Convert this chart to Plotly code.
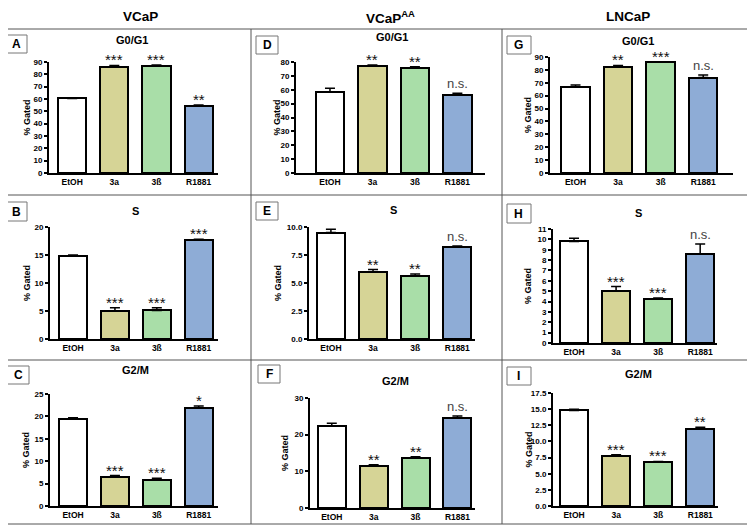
import plotly.graph_objects as go

W, H = 755, 526
OFF = 8  # the page body adds an 8px margin, so shift everything up/left

categories = ["EtOH", "3a", "3ß", "R1881"]
bar_colors = ["#ffffff", "#d6d496", "#a9dea8", "#8eacd6"]

cell_lines = ["VCaP", "VCaP<sup>AA</sup>", "LNCaP"]
phases = ["G0/G1", "S", "G2/M"]

# VCaP
a_mean = [60.5, 86.0, 86.5, 54.5]
a_err = [0.5, 1.2, 1.0, 0.7]
a_sig = ["", "***", "***", "**"]
b_mean = [14.8, 5.0, 5.1, 17.7]
b_err = [0.2, 0.6, 0.5, 0.1]
b_sig = ["", "***", "***", "***"]
c_mean = [19.4, 6.4, 5.9, 21.8]
c_err = [0.3, 0.4, 0.3, 0.5]
c_sig = ["", "***", "***", "*"]
# VCaP AA
d_mean = [58.5, 77.0, 75.6, 56.0]
d_err = [2.5, 0.8, 1.0, 1.5]
d_sig = ["", "**", "**", "n.s."]
e_mean = [9.5, 6.0, 5.6, 8.25]
e_err = [0.3, 0.2, 0.2, 0.05]
e_sig = ["", "**", "**", "n.s."]
f_mean = [22.4, 11.5, 13.6, 24.6]
f_err = [0.7, 0.3, 0.4, 0.5]
f_sig = ["", "**", "**", "n.s."]
# LNCaP
g_mean = [67.0, 82.5, 86.0, 74.0]
g_err = [1.2, 1.0, 0.3, 2.0]
g_sig = ["", "**", "***", "n.s."]
h_mean = [9.8, 5.0, 4.25, 8.6]
h_err = [0.3, 0.45, 0.1, 0.95]
h_sig = ["", "***", "***", "n.s."]
i_mean = [14.8, 7.8, 6.8, 11.9]
i_err = [0.2, 0.15, 0.1, 0.3]
i_sig = ["", "***", "***", "**"]

y_max = {"A": 90, "B": 20, "C": 25, "D": 80, "E": 10, "F": 30, "G": 90, "H": 11, "I": 17.5}
y_step = {"A": 10, "B": 5, "C": 5, "D": 10, "E": 2.5, "F": 10, "G": 10, "H": 1, "I": 2.5}

data = {
    "A": (a_mean, a_err, a_sig), "B": (b_mean, b_err, b_sig), "C": (c_mean, c_err, c_sig),
    "D": (d_mean, d_err, d_sig), "E": (e_mean, e_err, e_sig), "F": (f_mean, f_err, f_sig),
    "G": (g_mean, g_err, g_sig), "H": (h_mean, h_err, h_sig), "I": (i_mean, i_err, i_sig),
}

# geometry in page pixels: x domain, y domain (top, bottom), x range,
# title pos, letter box, y-title x
panels = {
    "A": dict(xd=(49, 218), yd=(62, 173), xr=(-0.55, 3.46), t=(132, 40), box=(6, 35, 27, 53), yt=27),
    "B": dict(xd=(50, 218), yd=(227, 339), xr=(-0.55, 3.46), t=(135, 211), box=(6, 202, 27, 221), yt=27),
    "C": dict(xd=(50, 218), yd=(394, 506), xr=(-0.55, 3.46), t=(135, 370), box=(7, 366, 29, 384), yt=26),
    "D": dict(xd=(296, 485), yd=(62, 173), xr=(-0.8, 3.65), t=(392, 37), box=(256, 36, 278, 54), yt=277),
    "E": dict(xd=(309, 475), yd=(227, 339), xr=(-0.52, 3.42), t=(393, 210), box=(256, 202, 278, 220), yt=278),
    "F": dict(xd=(310, 475), yd=(398, 508), xr=(-0.52, 3.42), t=(395, 381), box=(258, 365, 280, 383), yt=285),
    "G": dict(xd=(550, 733), yd=(57, 173), xr=(-0.6, 3.7), t=(638, 41), box=(507, 36, 531, 54), yt=528),
    "H": dict(xd=(553, 717), yd=(229, 343), xr=(-0.5, 3.4), t=(638, 213), box=(507, 204, 531, 223), yt=528),
    "I": dict(xd=(553, 718), yd=(393, 506), xr=(-0.5, 3.42), t=(638, 374), box=(507, 367, 531, 385), yt=528),
}
panel_phase = {"A": 0, "B": 1, "C": 2, "D": 0, "E": 1, "F": 2, "G": 0, "H": 1, "I": 2}


def px(x):
    return (x - OFF) / W


def py(y):
    return 1 - (y - OFF) / H


FONT = "Liberation Sans, Arial, sans-serif"
fig = go.Figure()
annotations = []
shapes = []


def paper_text(x, y, text, size, weight="bold", angle=0):
    return dict(x=px(x), y=py(y), xref="paper", yref="paper", text=text, showarrow=False,
                xanchor="center", yanchor="middle", textangle=angle,
                font=dict(family=FONT, size=size, color="black", weight=weight))


for n, letter in enumerate("ABCDEFGHI", start=1):
    mean, err, sig = data[letter]
    p = panels[letter]
    xa = "x" if n == 1 else f"x{n}"
    ya = "y" if n == 1 else f"y{n}"
    fig.add_trace(go.Bar(
        x=list(range(4)), y=mean, width=0.67, xaxis=xa, yaxis=ya,
        marker=dict(color=bar_colors, line=dict(color="black", width=2)),
        error_y=dict(type="data", array=err, arrayminus=[0] * 4, symmetric=False,
                     color="black", thickness=1.5, width=5),
        showlegend=False, hoverinfo="y"))

    step = y_step[letter]
    top = y_max[letter]
    fmt = ".1f" if step == 2.5 else "d"
    ax_x = dict(domain=[px(p["xd"][0]), px(p["xd"][1])], range=list(p["xr"]),
                anchor=ya, showline=True, linecolor="black", linewidth=2,
                tickvals=list(range(4)), ticktext=categories, ticks="",
                showgrid=False, zeroline=False, automargin=False,
                tickfont=dict(family=FONT, size=8.5, color="black", weight="bold"))
    ax_y = dict(domain=[py(p["yd"][1]), py(p["yd"][0])], range=[0, top],
                anchor=xa, showline=True, linecolor="black", linewidth=2,
                tick0=0, dtick=step, tickformat=fmt, ticks="outside", ticklen=3,
                tickwidth=1.5, tickcolor="black", showgrid=False, zeroline=False,
                automargin=False,
                tickfont=dict(family=FONT, size=8, color="black", weight="bold"))
    fig.update_layout({("xaxis" if n == 1 else f"xaxis{n}"): ax_x,
                       ("yaxis" if n == 1 else f"yaxis{n}"): ax_y})

    # y axis title
    annotations.append(paper_text(p["yt"], (p["yd"][0] + p["yd"][1]) / 2, "% Gated", 9, angle=-90))

    for k in range(4):
        if not sig[k]:
            continue
        ns = sig[k] == "n.s."
        annotations.append(dict(
            x=k, y=mean[k] + err[k], xref=xa, yref=ya, text=sig[k], showarrow=False,
            xanchor="center", yanchor="bottom", yshift=0 if ns else -5,
            font=dict(family=FONT, size=13 if ns else 15, color="#444444" if ns else "#111111")))

    # panel title
    tx, ty = p["t"]
    annotations.append(paper_text(tx, ty, phases[panel_phase[letter]], 11))
    # letter box
    x0, y0, x1, y1 = p["box"]
    shapes.append(dict(type="rect", xref="paper", yref="paper", x0=px(x0), x1=px(x1),
                       y0=py(y1), y1=py(y0), line=dict(color="#777777", width=1)))
    annotations.append(paper_text((x0 + x1) / 2, (y0 + y1) / 2, letter, 12))

# column headers
for name, cx in zip(cell_lines, [140, 390, 628]):
    annotations.append(paper_text(cx, 17, name, 13.5))

# frame and dividers
frame = dict(color="#555555", width=1)
shapes.append(dict(type="rect", xref="paper", yref="paper", x0=px(1), x1=px(753),
                   y0=py(524), y1=py(29), line=frame))
for vx in [251, 502]:
    shapes.append(dict(type="line", xref="paper", yref="paper", x0=px(vx), x1=px(vx),
                       y0=py(524), y1=py(29), line=frame))
for hy in [195, 360]:
    shapes.append(dict(type="line", xref="paper", yref="paper", x0=px(1), x1=px(753),
                       y0=py(hy), y1=py(hy), line=frame))

fig.update_layout(width=W, height=H, margin=dict(l=0, r=0, t=0, b=0),
                  paper_bgcolor="white", plot_bgcolor="white",
                  annotations=annotations, shapes=shapes, bargap=0)

fig.write_html("out.html")
